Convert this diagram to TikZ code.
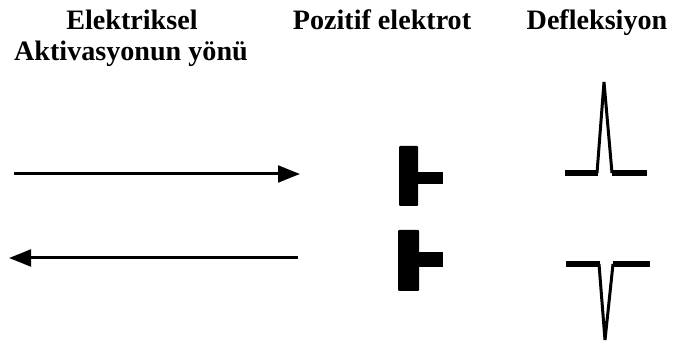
\documentclass[tikz,border=0pt]{standalone}
\usepackage{fontspec}
\setmainfont{Liberation Serif}
\usepackage{tikz}
\usetikzlibrary{arrows.meta}

\tikzset{
  baslik/.style={anchor=base, font=\fontsize{24}{26}\selectfont\bfseries, inner sep=0pt},
  yon/.style={line width=0.09cm, -{Triangle[length=0.66cm,width=0.5cm]}},
  sinyal/.style={line width=0.09cm, line join=miter},
  taban/.style={line width=0.2cm, line cap=butt},
}

\begin{document}
\begin{tikzpicture}[x=0.03cm, y=-0.03cm]

\useasboundingbox (0,0) rectangle (674,347);

% basliklar
\node[baslik] (elk) at (132,30) {Elektriksel};
\node[baslik] (akt) at (131,61) {Aktivasyonun yönü};
\node[baslik] (poz) at (382,30) {Pozitif elektrot};
\node[baslik] (def) at (597,30) {Defleksiyon};

% aktivasyon oklari
\coordinate (ok1a) at (14,174);
\coordinate (ok1b) at (300,174);
\coordinate (ok2a) at (298,258);
\coordinate (ok2b) at (9,258);

\draw[yon] (ok1a) -- (ok1b);
\draw[yon] (ok2a) -- (ok2b);

% elektrotlar
\fill[black, rounded corners=0.03cm] (399,146) rectangle (418,206);
\fill[black] (417,172) rectangle (443,184);

\fill[black, rounded corners=0.03cm] (398,230) rectangle (419,291);
\fill[black] (418,252) rectangle (443,267);

% defleksiyonlar
\draw[taban] (565,173) -- (598,173);
\draw[taban] (612,173) -- (647,173);
\draw[sinyal] (597,173) -- (604,82) -- (612,173);

\draw[taban] (566,264) -- (600,264);
\draw[taban] (613,264) -- (650,264);
\draw[sinyal] (599,264) -- (605,340) -- (613,264);

\end{tikzpicture}
\end{document}
